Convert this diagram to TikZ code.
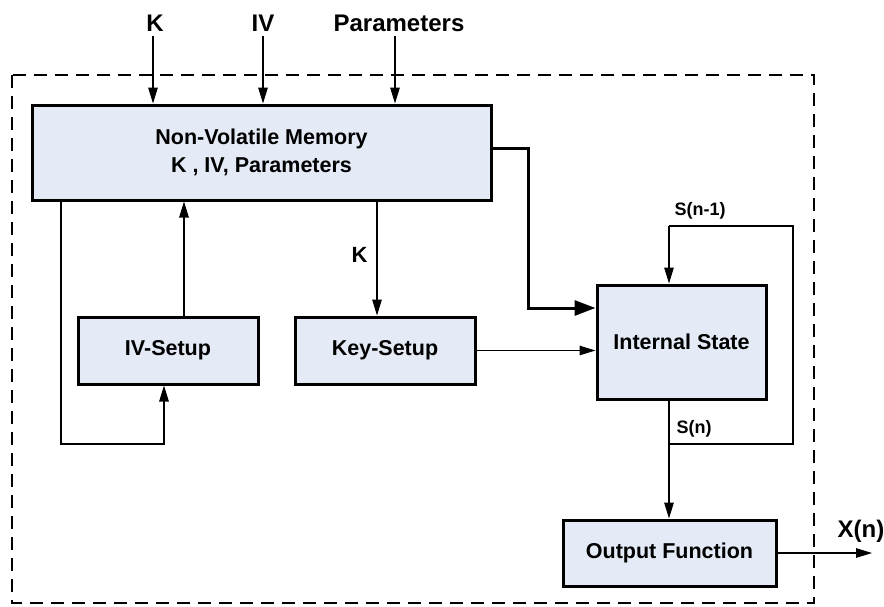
\documentclass[tikz,border=0pt]{standalone}
\usepackage{fontspec}
\setmainfont{Liberation Sans}
\usetikzlibrary{arrows.meta}
\definecolor{boxfill}{RGB}{228,234,246}
\tikzset{
  blk/.style={draw=black, line width=3pt, fill=boxfill, inner sep=0pt, align=center,
    font=\fontsize{21.5}{28}\selectfont\bfseries},
  arr/.style={line width=1.3pt, -{Triangle[length=16pt,width=9.5pt]}},
  thinline/.style={line width=1.3pt},
  thickarr/.style={line width=3pt, -{Triangle[length=21pt,width=15pt]}},
  biglbl/.style={font=\fontsize{24}{28}\selectfont\bfseries, inner sep=0pt, anchor=base},
  midlbl/.style={font=\fontsize{22}{26}\selectfont\bfseries, inner sep=0pt, anchor=base},
  smalllbl/.style={font=\fontsize{18}{22}\selectfont\bfseries, inner sep=0pt, anchor=base},
  border/.style={line width=1.5pt, dash pattern=on 13pt off 8pt}
}
\begin{document}
\begin{tikzpicture}[x=1pt,y=-1pt]
\useasboundingbox (0,0) rectangle (884,606);
\draw[border] (12,75) rectangle (814,603);

\node[blk, minimum width=459pt, minimum height=95pt] (nvm) at (261.5,152.5) {Non-Volatile Memory\\K , IV, Parameters};
\node[blk, minimum width=180pt, minimum height=67pt] (ivs) at (168,350.5) {IV-Setup};
\node[blk, minimum width=180pt, minimum height=67pt] (kys) at (385,350.5) {Key-Setup};
\node[blk, minimum width=169pt, minimum height=114pt] (ist) at (681.5,342) {Internal State};
\node[blk, minimum width=213pt, minimum height=66pt] (ofn) at (669.5,553) {Output Function};

% top inputs
\node[biglbl] (lk) at (155,31) {K};
\node[biglbl] (liv) at (263,31) {IV};
\node[biglbl] (lpar) at (399,31) {Parameters};
\coordinate (kin) at (153,36);
\coordinate (ivin) at (263,36);
\coordinate (parin) at (395,36);
\draw[arr] (kin) -- (kin |- nvm.north);
\draw[arr] (ivin) -- (ivin |- nvm.north);
\draw[arr] (parin) -- (parin |- nvm.north);

% NVM -> Internal State (thick)
\coordinate (tk) at (528,0);
\coordinate (nvmout) at ([yshift=4.5pt]nvm.east);
\coordinate (istin) at ([yshift=34pt]ist.west);
\draw[thickarr] (nvmout) -| (tk |- istin) -- (istin);

% NVM -> Key-Setup
\coordinate (kx) at (377,0);
\draw[arr] (nvm.south -| kx) -- (kys.north -| kx);
\node[midlbl] (lkm) at (359.5,262) {K};

% Key-Setup -> Internal State
\draw[arr] (kys.east) -- (kys.east -| ist.west);

% IV-Setup -> NVM
\coordinate (ivx) at (184,0);
\draw[arr] (ivs.north -| ivx) -- (nvm.south -| ivx);

% NVM -> IV-Setup loop
\coordinate (lpx) at (61,0);
\coordinate (lb) at (164,444);
\draw[arr] (nvm.south -| lpx) |- (lb) -- (ivs.south -| lb);

% Internal State feedback and output
\coordinate (sx) at (669,0);
\coordinate (fbr) at (793,444);
\coordinate (fbt) at (793,226);
\draw[arr] (ist.south -| sx) -- (ofn.north -| sx);
\draw[thinline] (sx |- fbr) -- (fbr) -- (fbt) -- (sx |- fbt);
\draw[arr] (sx |- fbt) -- (ist.north -| sx);
\node[smalllbl] (lsn1) at (700,215) {S(n-1)};
\node[smalllbl] (lsn) at (694,433) {S(n)};

% output
\coordinate (xout) at (872,553);
\draw[arr] (ofn.east) -- (xout);
\node[biglbl] (lxn) at (861,537) {X(n)};
\end{tikzpicture}
\end{document}
